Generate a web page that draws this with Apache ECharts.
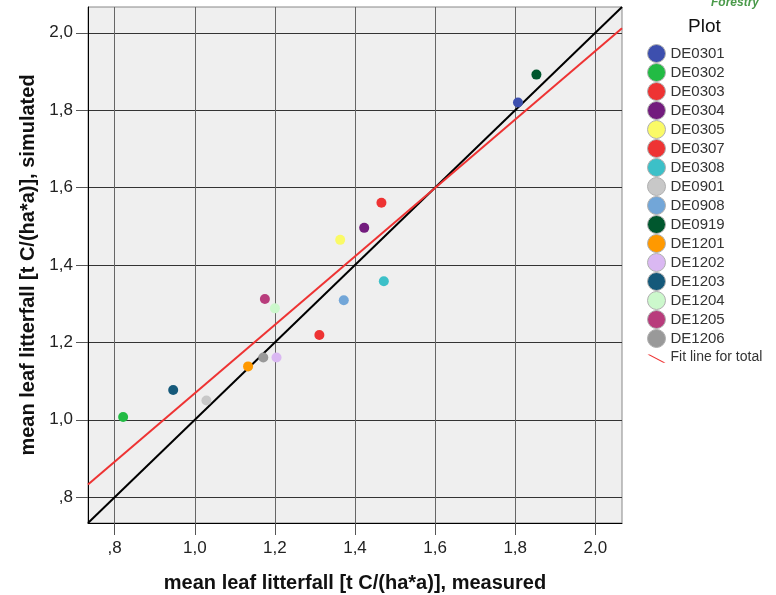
<!DOCTYPE html>
<html>
<head>
<meta charset="utf-8">
<script src="https://cdn.jsdelivr.net/npm/echarts@6/dist/echarts.min.js"></script>
<style>
html,body{margin:0;padding:0;background:#fff;}
#chart{width:776px;height:595px;}
</style>
</head>
<body>
<div id="chart"></div>
<script>
// ---- data ----
const plots = ['DE0301','DE0302','DE0303','DE0304','DE0305','DE0307','DE0308','DE0901',
               'DE0908','DE0919','DE1201','DE1202','DE1203','DE1204','DE1205','DE1206'];
const measured  = [1.807, 0.821, 1.466, 1.423, 1.363, 1.311, 1.472, 1.029,
                   1.372, 1.853, 1.133, 1.204, 0.946, 1.200, 1.175, 1.171];
const simulated = [1.820, 1.007, 1.561, 1.496, 1.465, 1.219, 1.358, 1.050,
                   1.309, 1.892, 1.138, 1.161, 1.077, 1.288, 1.312, 1.161];
const plotColors = ['#3d4fae','#22bb44','#ee3333','#731c7e','#fafa66','#ee3333','#3cc0c8','#c8c8c8',
                    '#72a6d8','#00572e','#ff9900','#dab8f2','#15597a','#ccf8cc','#b83c7c','#999999'];
const fitLine = [[0.7333, 0.833], [2.0667, 2.012]];
const identityLine = [[0.7333, 0.7333], [2.0667, 2.0667]];
const tickValues = [0.8, 1.0, 1.2, 1.4, 1.6, 1.8, 2.0];
const axisMin = 0.7333, axisMax = 2.0667;

const FONT = '"Liberation Sans", Arial, sans-serif';
function fmt(v){
  let s = Number(v).toFixed(1).replace('.', ',');
  if (s.startsWith('0')) s = s.slice(1);
  return s;
}

const chart = echarts.init(document.getElementById('chart'), null, {renderer:'canvas'});

const series = [
  {
    name: 'identity', type: 'line', data: identityLine, symbol: 'none', silent: true,
    lineStyle: {color: '#000', width: 2}, z: 2, animation: false
  },
  {
    name: 'Fit line for total', type: 'line', data: fitLine, symbol: 'none', silent: true,
    color: '#ee3333', lineStyle: {color: '#ee3333', width: 2}, z: 2, animation: false
  }
];
plots.forEach((p, i) => {
  series.push({
    name: p, type: 'scatter', data: [[measured[i], simulated[i]]],
    symbol: 'circle', symbolSize: 10, color: plotColors[i],
    itemStyle: {color: plotColors[i], opacity: 1}, z: 3, animation: false
  });
});

const legendData = plots.map(p => ({name: p, icon: 'circle'}));
legendData.push({
  name: 'Fit line for total',
  icon: 'path://M0,0L0.01,0L0.01,0.01Z M0,5 L3,5 L24,16 L21,16 Z M24,18L24.01,18L24.01,17.99Z',
  itemStyle: {borderWidth: 0},
  textStyle: {fontSize: 14, lineHeight: 19}
});

chart.setOption({
  animation: false,
  backgroundColor: '#ffffff',
  textStyle: {fontFamily: FONT},
  title: {
    text: 'Plot', left: 688, top: 17, padding: 0,
    textStyle: {fontFamily: FONT, fontSize: 19, fontWeight: 'normal', color: '#111'}
  },
  graphic: [
    {type: 'text', left: 711, top: -3, silent: true,
     style: {text: 'Forestry', fontFamily: FONT, fontSize: 12, fontWeight: 'bold', fontStyle: 'italic', fill: '#4a9a4a'}}
  ],
  legend: {
    orient: 'vertical', left: 647, top: 44, padding: 0,
    itemWidth: 18, itemHeight: 18, itemGap: 0,
    data: legendData,
    itemStyle: {borderColor: '#b0b0b0', borderWidth: 1},
    textStyle: {fontFamily: FONT, fontSize: 15, lineHeight: 19, color: '#333'},
    selectedMode: false
  },
  grid: {
    left: 88, top: 7, right: 154, bottom: 72,
    outerBoundsMode: 'none', containLabel: false,
    show: true, backgroundColor: '#efefef', borderColor: '#888', borderWidth: 1
  },
  xAxis: {
    type: 'value', min: axisMin, max: axisMax, splitNumber: 7,
    name: 'mean leaf litterfall [t C/(ha*a)], measured',
    nameLocation: 'middle', nameGap: 50,
    nameTextStyle: {fontFamily: FONT, fontSize: 20, fontWeight: 'bold', color: '#111'},
    axisLine: {show: true, onZero: false, lineStyle: {color: '#000', width: 1}},
    axisTick: {show: true, length: 12, inside: false, customValues: tickValues, lineStyle: {color: '#555', width: 1}},
    axisLabel: {customValues: tickValues, formatter: fmt, margin: 17, fontFamily: FONT, fontSize: 17, color: '#222'},
    splitLine: {show: true, lineStyle: {color: '#666', width: 1}}
  },
  yAxis: {
    type: 'value', min: axisMin, max: axisMax, splitNumber: 7,
    name: 'mean leaf litterfall [t C/(ha*a)], simulated',
    nameLocation: 'middle', nameGap: 48,
    nameTextStyle: {fontFamily: FONT, fontSize: 20, fontWeight: 'bold', color: '#111'},
    axisLine: {show: true, onZero: false, lineStyle: {color: '#000', width: 1}},
    axisTick: {show: true, length: 12, inside: false, customValues: tickValues, lineStyle: {color: '#555', width: 1}},
    axisLabel: {customValues: tickValues, formatter: fmt, margin: 15, fontFamily: FONT, fontSize: 17, color: '#222'},
    splitLine: {show: true, lineStyle: {color: '#333', width: 1}}
  },
  series: series
});
</script>
</body>
</html>
